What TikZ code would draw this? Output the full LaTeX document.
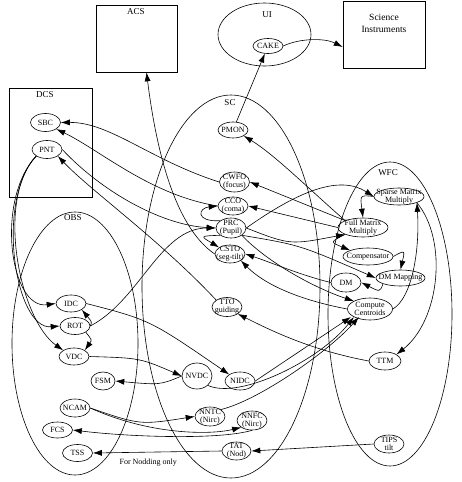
\documentclass[tikz,border=0pt]{standalone}
\usepackage{fontspec}
\setmainfont{Liberation Serif}
\usetikzlibrary{shapes.geometric,arrows.meta}

\begin{document}
\begin{tikzpicture}[x=1pt, y=-1pt, line width=0.6pt, >={Latex[length=9pt,width=6pt]},
	proc/.style={draw, ellipse, inner sep=-10pt, minimum width=30pt, minimum height=18pt, align=center, font=\fontsize{8}{8}\selectfont},
	grp/.style={font=\fontsize{9}{9}\selectfont}]
	\useasboundingbox (0,0) rectangle (462,482);

	% clusters
	\node[draw, rectangle, minimum width=81pt, minimum height=67pt](ACS) at (136.5,38.5) {};
	\node[grp] at (136,12) {ACS};
	\node[draw, rectangle, minimum width=82pt, minimum height=67pt](SI) at (384,34.5) {};
	\node[align=center, font=\fontsize{9.5}{12}\selectfont] at (384,23) {Science\\Instruments};
	\draw (264.5,34.5) ellipse [x radius=46.5pt, y radius=31.5pt];
	\node[grp] at (267,15) {UI};
	\draw (9,88) rectangle (92,197);
	\node[grp] at (45,95) {DCS};
	\draw (231,286.5) ellipse [x radius=89pt, y radius=191.5pt];
	\node[grp] at (230,103) {SC};
	\draw (75,343.5) ellipse [x radius=63pt, y radius=131.5pt];
	\node[grp] at (73,218) {OBS};
	\draw (390,314) ellipse [x radius=62pt, y radius=152pt];
	\node[grp] at (388,173) {WFC};

	% nodes
	\node[proc, minimum height=15pt](CAKE) at (268,46) {CAKE};
	\node[proc](SBC) at (45.5,122.5) {SBC};
	\node[proc](PNT) at (47,149.5) {PNT};
	\node[proc, minimum height=16pt](PMON) at (233,130) {PMON};
	\node[proc, minimum height=20pt](CWFO) at (234.5,182) {CWFO\\(focus)};
	\node[proc](CCO) at (233,206) {CCO\\(coma)};
	\node[proc, minimum height=20pt](PRC) at (231,228) {PRC\\(Pupil)};
	\node[proc](CSTO) at (230,254) {CSTO\\(seg-tilt)};
	\node[proc, minimum height=19pt](TTO) at (227,307) {TTO\\guiding};
	\node[proc, minimum height=17pt](IDC) at (71,303.5) {IDC};
	\node[proc, minimum height=17pt](ROT) at (75,326) {ROT};
	\node[proc, minimum height=17pt](VDC) at (74,356.5) {VDC};
	\node[proc, minimum width=24pt](FSM) at (103,381) {FSM};
	\node[proc](NCAM) at (75,408) {NCAM};
	\node[proc, minimum height=16pt](FCS) at (57.5,430) {FCS};
	\node[proc, minimum height=17pt](TSS) at (77.5,453) {TSS};
	\node[proc, minimum height=26pt](NVDC) at (197,376) {NVDC};
	\node[proc](NIDC) at (240,381) {NIDC};
	\node[proc, minimum height=19pt](NNTC) at (210,416.5) {NNTC\\(Nirc)};
	\node[proc, minimum height=19pt](NNFC) at (252,420.5) {NNFC\\(Nirc)};
	\node[proc, minimum width=29pt](TAT) at (236.5,451) {TAT\\(Nod)};
	\node[proc, minimum width=50pt, minimum height=17pt](SMM) at (399,196.5) {Sparse Matrix\\Multiply};
	\node[proc, minimum width=50pt, minimum height=19pt](FMM) at (363,227.5) {Full Matrix\\Multiply};
	\node[proc, minimum width=50pt, minimum height=17pt](COMP) at (368,256.5) {Compensator};
	\node[proc, minimum width=49pt, minimum height=16pt](DMM) at (400.5,278) {DM Mapping};
	\node[proc, minimum height=19pt](DM) at (346,282.5) {DM};
	\node[proc, minimum width=45pt, minimum height=22pt](CC) at (370,309) {Compute\\Centroids};
	\node[proc, minimum width=32pt](TTM) at (385,361) {TTM};
	\node[proc](TIPS) at (389,444) {TIPS\\tilt};

	% connectors
	\draw[->] (PMON) -- (CAKE);
	\draw[->] (CAKE.east) .. controls (300,38) and (325,38) .. ([yshift=-12.5pt]SI.west);
	\draw[->] (CSTO.west) .. controls (172,225) and (155,140) .. ([xshift=10pt]ACS.south);
	\draw[->] (FMM.north west) .. controls (310,190) and (275,155) .. (PMON.south east);
	\draw[->] (FMM.north west) -- (CWFO.east);
	\draw[->] (FMM.west) -- (CCO.east);
	\draw[->] (CWFO.west) .. controls (150,160) and (110,122) .. (SBC.east);
	\draw[->] (CCO.west) .. controls (150,195) and (100,150) .. (SBC.south east);
	\draw[->] (PRC.north west) .. controls (195,222) and (198,208) .. (CCO.west);
	\draw[->] (PRC.south west) .. controls (200,236) .. (CSTO.north west);
	\draw[->] (PNT.east) .. controls (100,190) and (160,225) .. (PRC.west);
	\draw[->] (ROT.east) .. controls (140,300) and (160,228) .. (PRC.west);
	\draw[->] (PRC.east) .. controls (300,190) and (340,175) .. (SMM.west);
	\draw[->] (PRC.east) .. controls (290,245) .. (FMM.south west);
	\draw[->] (PRC.south east) .. controls (300,245) .. (DMM.west);
	\draw[->] (PRC.south east) .. controls (270,265) and (320,290) .. (CC.north west);
	\draw[->] (SMM.west) .. controls (360,195) .. (FMM.north);
	\draw[->] (FMM.south west) .. controls (330,242) .. (COMP.north west);
	\draw[->] (COMP.east) .. controls (405,250) .. (DMM.north);
	\draw[->] (DMM.south west) .. controls (380,292) .. (DM.east);
	\draw[->] (DM.west) .. controls (300,275) and (270,262) .. (CSTO.east);
	\draw[->] (CC.west) .. controls (300,300) and (265,285) .. (CSTO.south east);
	\draw[->] (CC.east) .. controls (412,298) and (420,250) .. (SMM.south east);
	\draw[->] (SMM.south east) .. controls (448,240) and (440,320) .. (TTM.north east);
	\draw[->] (TTM.west) .. controls (310,350) and (270,330) .. (TTO.south east);
	\draw[->] (TTO.north west) .. controls (160,240) and (90,190) .. (PNT.south east);
	\draw[->] (PNT.south west) .. controls (-5,200) and (10,310) .. (IDC.west);
	\draw[->] (PNT.south west) .. controls (-5,200) and (15,330) .. (ROT.west);
	\draw[->] (PNT.south west) .. controls (-5,200) and (20,320) .. (VDC.north west);
	\draw[->] (ROT.east) .. controls (92,322) .. (IDC.south east);
	\draw[->] (ROT.south east) .. controls (92,340) .. (VDC.north east);
	\draw[->] (IDC.east) .. controls (150,320) .. (NIDC.north west);
	\draw[->] (VDC.east) .. controls (140,358) .. (NVDC.west);
	\draw[->] (NVDC.west) .. controls (160,385) .. (FSM.east);
	\draw[->] (NVDC.south east) .. controls (240,400) and (320,360) .. (CC.south west);
	\draw[->] (NIDC.east) -- ([xshift=-3pt]CC.south west);
	\draw[->] (NNTC.north east) .. controls (260,400) and (330,350) .. ([xshift=5pt]CC.south west);
	\draw[->] (NCAM.east) .. controls (140,425) .. (NNTC.west);
	\draw[->] (NCAM.east) .. controls (150,435) and (210,435) .. (NNFC.south west);
	\draw[->] (NNFC.south) .. controls (220,440) and (130,437) .. (FCS.east);
	\draw[->] (TAT.west) -- node[pos=0.57, below=3pt, font=\fontsize{8}{8}\selectfont]{For Nodding only} (TSS.east);
	\draw[->] (TIPS.west) -- (TAT.east);
\end{tikzpicture}
\end{document}
